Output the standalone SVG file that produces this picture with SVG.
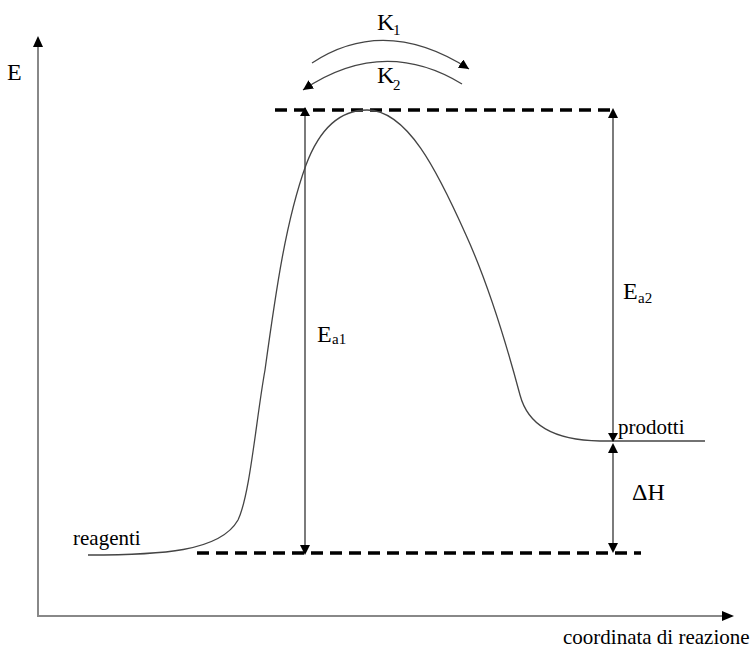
<svg xmlns="http://www.w3.org/2000/svg" width="754" height="650" viewBox="0 0 754 650">
<style>
text{font-family:"Liberation Serif","Times New Roman",serif;fill:#000}
.axis{stroke:#888;stroke-width:2;fill:none}
.dash{stroke:#000;stroke-width:3.5;stroke-dasharray:12 7;fill:none}
.vline{stroke:#444;stroke-width:1.4;fill:none}
.curve{stroke:#444;stroke-width:1.3;fill:none}
.arc{stroke:#444;stroke-width:1.3;fill:none;marker-end:url(#ah)}
.big{font-size:24px}
.sub{font-size:15px}
.lbl{font-size:21px}
</style>
<defs>
<marker id="ah" markerUnits="userSpaceOnUse" markerWidth="12" markerHeight="12" refX="10" refY="5" orient="auto">
<path d="M0,0 L10,5 L0,10 z" fill="#000"/>
</marker>
</defs>
<g id="axes">
<line class="axis" x1="38" y1="617" x2="38" y2="45"/>
<path d="M33,47 L38,36 L43,47 z" fill="#000"/>
<line class="axis" x1="37" y1="616" x2="725" y2="616"/>
<path d="M722,611 L734,616 L722,621 z" fill="#000"/>
<text x="7" y="80" class="big">E</text>
<text x="563" y="644" class="lbl">coordinata di reazione</text>
</g>
<g id="levels">
<line class="dash" x1="275" y1="110" x2="616" y2="110"/>
<line class="dash" x1="197" y1="553" x2="641" y2="553"/>
</g>
<g id="curve">
<path class="curve" d="M88,555 C160,555 220,552 238,520 C250,495 256,420 265,370 C276,290 286,220 306,165 C321,125 342,110 367,110 C407,110 437,170 466,235 C491,290 508,350 520,395 C528,425 553,440 600,441 L705,441"/>
<text x="73" y="545" class="lbl">reagenti</text>
<text x="618" y="434" class="lbl">prodotti</text>
</g>
<g id="connectors">
<line class="vline" x1="305" y1="114" x2="305" y2="547"/>
<path d="M300,116 L305,107 L310,116 z" fill="#000"/>
<path d="M300,545 L305,555 L310,545 z" fill="#000"/>
<line class="vline" x1="613" y1="116" x2="613" y2="435"/>
<path d="M608,118 L613,108 L618,118 z" fill="#000"/>
<path d="M608,433 L613,442 L618,433 z" fill="#000"/>
<line class="vline" x1="613" y1="450" x2="613" y2="545"/>
<path d="M608,453 L613,443 L618,453 z" fill="#000"/>
<path d="M608,543 L613,553 L618,543 z" fill="#000"/>
<path class="arc" d="M312,63 Q385,15 469,69"/>
<path class="arc" d="M462,84 Q383,36 303,90"/>
</g>
<g id="labels">
<text x="317" y="342" class="big">E</text><text x="332" y="344" class="sub">a1</text>
<text x="623" y="299" class="big">E</text><text x="638" y="303" class="sub">a2</text>
<text x="632" y="500" class="big">ΔH</text>
<text x="377" y="30" class="big">K</text><text x="393" y="35" class="sub">1</text>
<text x="377" y="83" class="big">K</text><text x="393" y="90" class="sub">2</text>
</g>
</svg>
